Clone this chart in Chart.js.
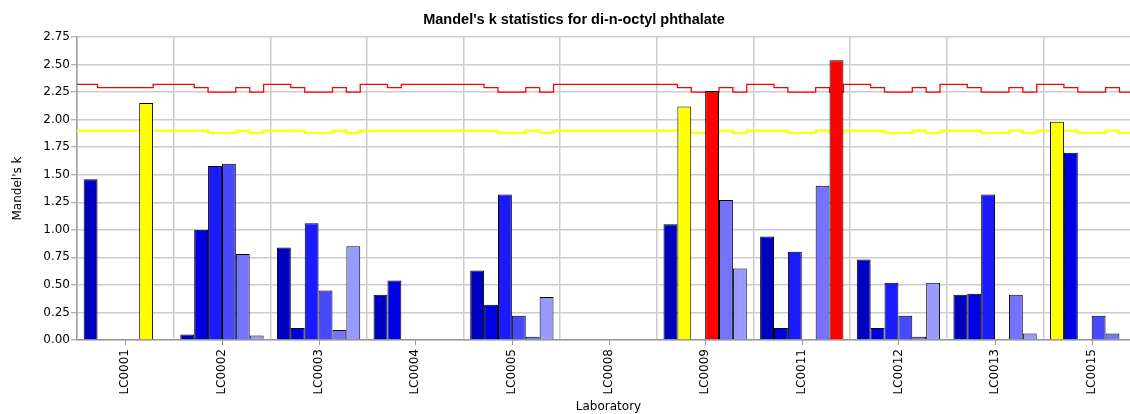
<!DOCTYPE html>
<html>
<head>
<meta charset="utf-8">
<title>Mandel's k statistics for di-n-octyl phthalate</title>
<script src="https://cdn.jsdelivr.net/npm/chart.js@4.4.1/dist/chart.umd.min.js"></script>
<style>
  html, body { margin: 0; padding: 0; background: #ffffff; width: 1130px; height: 414px; overflow: hidden; }
  #wrap { width: 1148px; height: 414px; }
</style>
</head>
<body>
<div id="wrap"><canvas id="chart" width="1148" height="414"></canvas></div>
<script>
// Participating laboratories (x categories)
const laboratories = ['LC0001', 'LC0002', 'LC0003', 'LC0004', 'LC0005', 'LC0008',
                      'LC0009', 'LC0011', 'LC0012', 'LC0013', 'LC0015'];

// Mandel's k per laboratory, one array per concentration level (null = no result)
const level1 = [1.46, 0.05, 0.84, 0.41, 0.63, null, 1.05, 0.94, 0.73, 0.41, 1.98];
const level2 = [null, 1.00, 0.11, 0.54, 0.32, null, 2.12, 0.11, 0.11, 0.42, 1.70];
const level3 = [null, 1.58, 1.06, null, 1.32, null, null, 0.80, 0.52, 1.32, null];
const level4 = [null, 1.60, 0.45, null, 0.22, null, 2.26, null, 0.22, null, 0.22];
const level5 = [2.15, 0.78, 0.09, null, 0.03, null, 1.27, 1.40, 0.03, 0.41, 0.06];
const level6 = [null, 0.04, 0.85, null, 0.39, null, 0.65, 2.54, 0.52, 0.06, null];

// Critical k values (1 % = red limit, 5 % = yellow limit), per laboratory and level
const kCrit1 = [
  [2.32, 2.29, 2.29, 2.29, 2.29, 2.32],
  [2.32, 2.29, 2.25, 2.25, 2.29, 2.25],
  [2.32, 2.29, 2.25, 2.25, 2.29, 2.25],
  [2.32, 2.29, 2.32, 2.32, 2.32, 2.32],
  [2.32, 2.29, 2.25, 2.25, 2.29, 2.25],
  [2.32, 2.32, 2.32, 2.32, 2.32, 2.32],
  [2.32, 2.29, 2.25, 2.25, 2.29, 2.25],
  [2.32, 2.29, 2.25, 2.25, 2.29, 2.25],
  [2.32, 2.29, 2.25, 2.25, 2.29, 2.25],
  [2.32, 2.29, 2.25, 2.25, 2.29, 2.25],
  [2.32, 2.29, 2.25, 2.25, 2.29, 2.25]
];
const kCrit5 = [
  [1.90, 1.90, 1.90, 1.90, 1.90, 1.90],
  [1.90, 1.90, 1.88, 1.88, 1.90, 1.88],
  [1.90, 1.90, 1.88, 1.88, 1.90, 1.88],
  [1.90, 1.90, 1.90, 1.90, 1.90, 1.90],
  [1.90, 1.90, 1.88, 1.88, 1.90, 1.88],
  [1.90, 1.90, 1.90, 1.90, 1.90, 1.90],
  [1.90, 1.90, 1.88, 1.88, 1.90, 1.88],
  [1.90, 1.90, 1.88, 1.88, 1.90, 1.88],
  [1.90, 1.90, 1.88, 1.88, 1.90, 1.88],
  [1.90, 1.90, 1.88, 1.88, 1.90, 1.88],
  [1.90, 1.90, 1.88, 1.88, 1.90, 1.88]
];

// Y axis ticks
const yTicks = [0, 0.25, 0.5, 0.75, 1, 1.25, 1.5, 1.75, 2, 2.25, 2.5, 2.75];

const levels = [level1, level2, level3, level4, level5, level6];
const levelColours = ['#0000c0', '#0000e6', '#1a1aff', '#4848ff', '#7373ff', '#9999ff'];
const RED = '#ff0000';
const YELLOW = '#ffff00';
const CAT_PCT = 0.862;
const TICK_FONT = { family: "'DejaVu Sans', sans-serif", size: 12 };

// Bar colour: red above the 1 % limit, yellow above the 5 % limit, otherwise the level colour
function barColour(lv) {
  return (ctx) => {
    const v = ctx.raw;
    const i = ctx.dataIndex;
    if (v == null) return levelColours[lv];
    if (v > kCrit1[i][lv]) return RED;
    if (v > kCrit5[i][lv]) return YELLOW;
    return levelColours[lv];
  };
}

// Step points (in category units) for a limit table: each bar slot carries its own limit,
// the step happens at the right edge of each slot
function limitPoints(crit) {
  const n = levels.length;
  const pts = [{ x: -0.5, y: crit[0][0] }];
  crit.forEach((row, i) => {
    row.forEach((v, k) => {
      pts.push({ x: i - 0.5 + (1 - CAT_PCT) / 2 + (k + 1) * CAT_PCT / n, y: v });
    });
  });
  const last = crit[crit.length - 1];
  pts.push({ x: crit.length - 0.5, y: last[last.length - 1] });
  return pts;
}

const limitLines = [
  { points: limitPoints(kCrit5), colour: YELLOW, width: 2.4 },
  { points: limitPoints(kCrit1), colour: RED, width: 1.3 }
];

// Draws the stepped critical-value lines through the chart scales, underneath the bars
const limitLinePlugin = {
  id: 'limitLines',
  beforeDatasetsDraw(chart) {
    const xs = chart.scales.x, ys = chart.scales.y, ctx = chart.ctx, a = chart.chartArea;
    ctx.save();
    ctx.beginPath();
    ctx.rect(a.left, a.top, a.right - a.left, a.bottom - a.top);
    ctx.clip();
    limitLines.forEach(line => {
      const p = line.points;
      ctx.beginPath();
      ctx.strokeStyle = line.colour;
      ctx.lineWidth = line.width;
      ctx.lineJoin = 'miter';
      ctx.moveTo(xs.getPixelForValue(p[0].x), ys.getPixelForValue(p[0].y));
      for (let j = 1; j < p.length; j++) {
        const yPix = ys.getPixelForValue(p[j].y);
        ctx.lineTo(xs.getPixelForValue(p[j - 1].x), yPix);
        ctx.lineTo(xs.getPixelForValue(p[j].x), yPix);
      }
      ctx.stroke();
    });
    ctx.restore();
  }
};

// Small tick marks under the centre of each laboratory group
const centreTicks = {
  id: 'centreTicks',
  afterDraw(chart) {
    const s = chart.scales.x;
    const ctx = chart.ctx;
    ctx.save();
    ctx.strokeStyle = '#999999';
    ctx.lineWidth = 1;
    laboratories.forEach((_, i) => {
      const px = Math.round(s.getPixelForValue(i)) + 0.5;
      ctx.beginPath();
      ctx.moveTo(px, s.top);
      ctx.lineTo(px, s.top + 5);
      ctx.stroke();
    });
    ctx.restore();
  }
};

const barSets = levels.map((vals, lv) => ({
  label: 'Level ' + (lv + 1),
  data: vals,
  backgroundColor: barColour(lv),
  borderColor: '#000000',
  borderWidth: 1,
  categoryPercentage: CAT_PCT,
  barPercentage: 1
}));

new Chart(document.getElementById('chart'), {
  type: 'bar',
  data: { labels: laboratories, datasets: barSets },
  options: {
    responsive: false,
    animation: false,
    layout: { padding: { left: 8, right: 8, top: 0, bottom: 0 } },
    plugins: {
      legend: { display: false },
      tooltip: { enabled: false },
      title: {
        display: true,
        text: "Mandel's k statistics for di-n-octyl phthalate",
        color: '#000000',
        font: { family: "'Liberation Sans', Arial, sans-serif", size: 14.5, weight: 'bold' },
        padding: { top: 11, bottom: 8.6 }
      }
    },
    scales: {
      x: {
        offset: true,
        grid: { offset: true, drawTicks: false, color: '#cccccc', lineWidth: 1.5 },
        border: { color: '#999999', width: 1.5 },
        ticks: { font: TICK_FONT, color: '#000000', minRotation: 90, maxRotation: 90, autoSkip: false, padding: 9 },
        title: { display: true, text: 'Laboratory', font: TICK_FONT, color: '#000000', padding: { top: 0, bottom: 0 } },
        afterFit: (s) => { s.height = 74; }
      },
      y: {
        min: yTicks[0],
        max: yTicks[yTicks.length - 1],
        afterBuildTicks: (s) => { s.ticks = yTicks.map(v => ({ value: v })); },
        grid: { color: '#cccccc', lineWidth: 1.5, tickLength: 6, tickColor: '#999999', tickWidth: 1 },
        border: { color: '#a0a0a0', width: 1.5 },
        ticks: { font: TICK_FONT, color: '#000000', padding: 1, callback: (v) => Number(v).toFixed(2) },
        title: { display: true, text: "Mandel's k", font: TICK_FONT, color: '#000000', padding: { top: 3, bottom: 0 } },
        afterFit: (s) => { s.width = 69; }
      }
    }
  },
  plugins: [limitLinePlugin, centreTicks]
});
</script>
</body>
</html>
